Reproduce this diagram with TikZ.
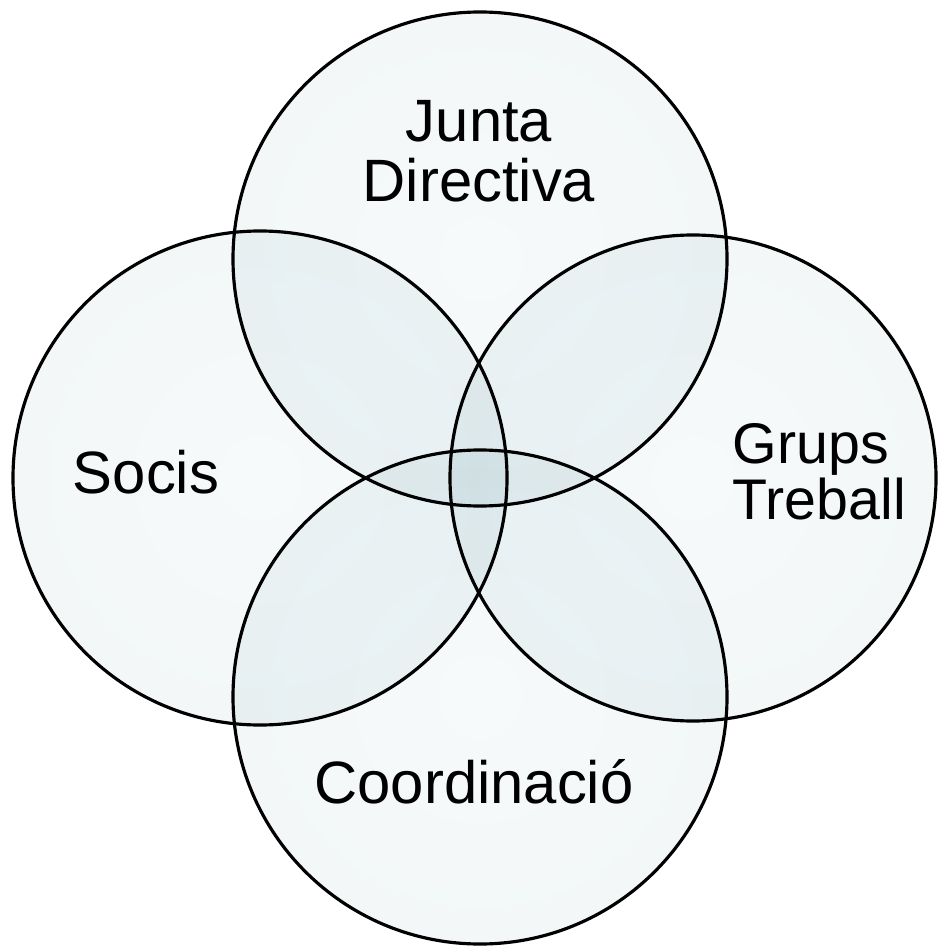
\documentclass[tikz,border=0pt]{standalone}
\usepackage{fontspec}
\setmainfont{Liberation Sans}

\definecolor{vidreCentre}{HTML}{F7FAFB}
\definecolor{vidreMig}{HTML}{F1F6F7}
\definecolor{vidreBlau}{HTML}{D9E9EB}
\definecolor{vidreVora}{HTML}{BFD9DC}
\pgfdeclareradialshading{vidre}{\pgfpoint{0bp}{0bp}}{color(0bp)=(vidreCentre); color(34bp)=(vidreMig); color(46bp)=(vidreBlau); color(50bp)=(vidreVora)}

\tikzset{
  vora/.style={draw=black, line width=0.9pt},
  etiqueta/.style={inner sep=0pt, font=\fontsize{17pt}{17pt}\selectfont},
}

\begin{document}
\begin{tikzpicture}[x=0.01cm, y=-0.01cm]
    % marges
    \useasboundingbox (0,0) rectangle (938,946);

    % centres
    \coordinate (junta) at (480,259);
    \coordinate (socis) at (260,478);
    \coordinate (grups) at (693,478);
    \coordinate (coord) at (480,697);

    % cercles
    \begin{scope}[blend group=multiply]
      \shade[shading=vidre] (junta) circle[radius=247];
      \shade[shading=vidre] (socis) circle[radius=247];
      \shade[shading=vidre] (grups) circle[radius=243];
      \shade[shading=vidre] (coord) circle[radius=247];
    \end{scope}

    % vores
    \draw[vora] (junta) circle[radius=247];
    \draw[vora] (socis) circle[radius=247];
    \draw[vora] (grups) circle[radius=243];
    \draw[vora] (coord) circle[radius=247];

    % textos
    \node[etiqueta, align=center] (tJunta) at (479,151) {Junta\\Directiva};
    \node[etiqueta, anchor=base] (tSocis) at (146,493) {Socis};
    \node[etiqueta, align=left, anchor=west, font=\fontsize{16.3pt}{15.8pt}\selectfont] (tGrups) at (732,472) {Grups\\Treball};
    \node[etiqueta, anchor=base] (tCoord) at (474,803) {Coordinació};
\end{tikzpicture}
\end{document}
